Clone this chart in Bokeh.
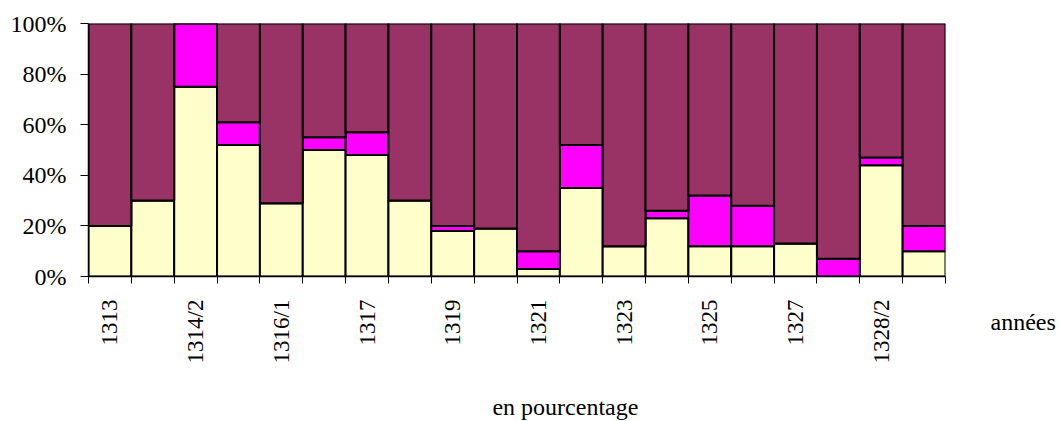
import math
from bokeh.plotting import figure
from bokeh.models import ColumnDataSource, Range1d, FixedTicker, Label
from bokeh.embed import file_html
from bokeh.resources import INLINE

years = ["1313", "1314/1", "1314/2", "1315", "1316/1", "1316/2", "1317", "1318",
         "1319", "1320", "1321", "1322", "1323", "1324", "1325", "1326",
         "1327", "1328/1", "1328/2", "1329"]
labelled = ["1313", "1314/2", "1316/1", "1317", "1319", "1321", "1323", "1325",
            "1327", "1328/2"]
yellow = [20, 30, 75, 52, 29, 50, 48, 30, 18, 19, 3, 35, 12, 23, 12, 12, 13, 0, 44, 10]
magenta = [0, 0, 25, 9, 0, 5, 9, 0, 2, 0, 7, 17, 0, 3, 20, 16, 0, 7, 3, 10]
maroon = [100 - a - b for a, b in zip(yellow, magenta)]
y_ticks = [0, 20, 40, 60, 80, 100]

FONT = "Liberation Serif"

xs = [i + 0.5 for i in range(len(years))]
src = ColumnDataSource(dict(x=xs, yellow=yellow, magenta=magenta, maroon=maroon))

p = figure(width=1061, height=421, output_backend="svg", toolbar_location=None,
           x_range=Range1d(0, len(years)), y_range=Range1d(0, 100),
           min_border_left=88, min_border_right=116, min_border_top=23,
           min_border_bottom=145)
p.outline_line_color = None
p.xgrid.visible = False
p.ygrid.visible = False

p.vbar_stack(["yellow", "magenta", "maroon"], x="x", width=1.0, source=src,
             color=["#FFFFCC", "#FF00FF", "#993366"], line_color="black",
             line_width=2)

# x axis
p.xaxis.ticker = FixedTicker(ticks=[xs[years.index(l)] for l in labelled],
                             minor_ticks=list(range(len(years) + 1)))
p.xaxis.major_label_overrides = {xs[years.index(l)]: l for l in labelled}
p.xaxis.major_tick_line_color = None
p.xaxis.major_tick_out = 0
p.xaxis.major_tick_in = 0
p.xaxis.minor_tick_out = 7
p.xaxis.minor_tick_in = 0
p.xaxis.minor_tick_line_color = "black"
p.xaxis.major_label_orientation = math.pi / 2
p.xaxis.major_label_standoff = 16
p.xaxis.axis_line_color = "black"
p.xaxis.axis_line_width = 1.5
p.xaxis.major_label_text_font_size = "23px"

# y axis
p.yaxis.ticker = FixedTicker(ticks=y_ticks, minor_ticks=[])
p.yaxis.major_label_overrides = {t: f"{t}%" for t in y_ticks}
p.yaxis.major_tick_out = 8
p.yaxis.major_tick_in = 0
p.yaxis.major_tick_line_color = "black"
p.yaxis.major_label_standoff = 14
p.yaxis.axis_line_color = "black"
p.yaxis.axis_line_width = 1.5
p.yaxis.major_label_text_font_size = "24px"

for ax in (p.xaxis, p.yaxis):
    ax.major_label_text_font = FONT
    ax.major_label_text_color = "black"

p.add_layout(Label(x=21.05, y=-17.8, text="années", text_font=FONT,
                   text_font_size="24px", text_color="black",
                   text_align="left", text_baseline="middle"), "below")
p.add_layout(Label(x=11.13, y=-51.5, text="en pourcentage", text_font=FONT,
                   text_font_size="24px", text_color="black",
                   text_align="center", text_baseline="middle"), "below")

open("out.html", "w").write(file_html(p, INLINE))
